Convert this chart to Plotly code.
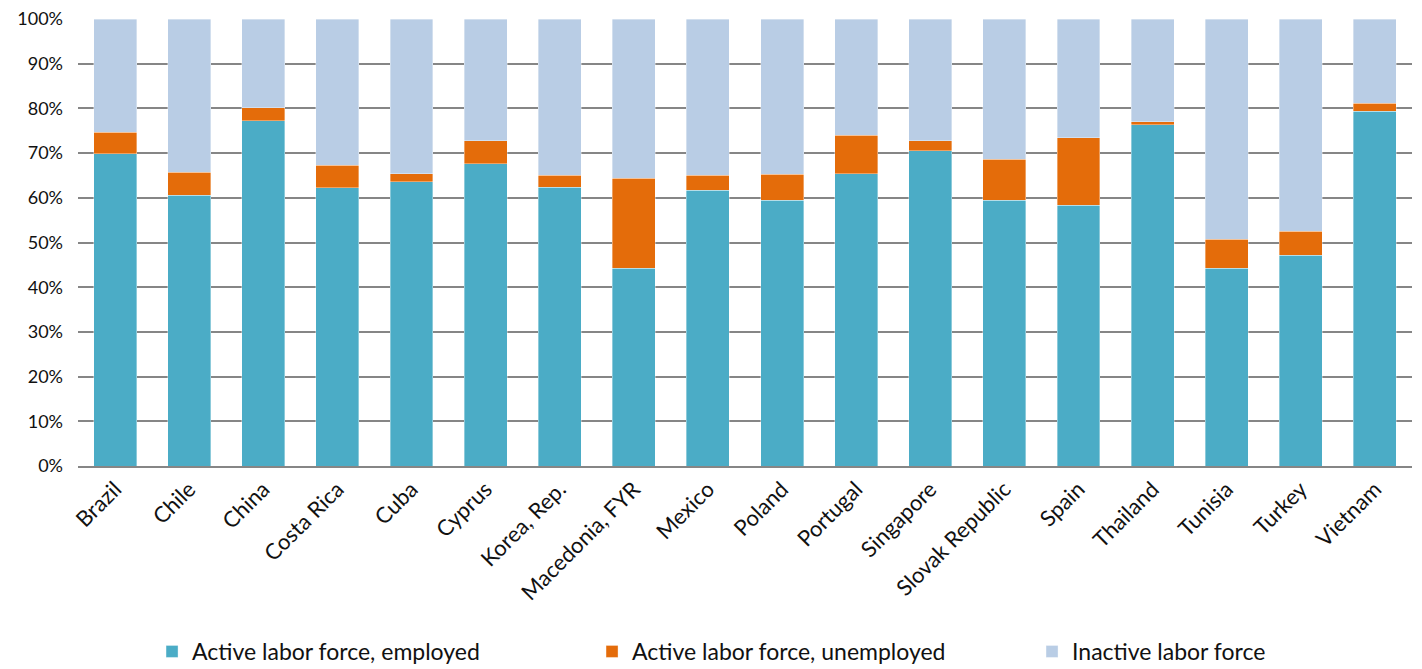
import plotly.graph_objects as go

countries = ["Brazil", "Chile", "China", "Costa Rica", "Cuba", "Cyprus", "Korea, Rep.",
             "Macedonia, FYR", "Mexico", "Poland", "Portugal", "Singapore",
             "Slovak Republic", "Spain", "Thailand", "Tunisia", "Turkey", "Vietnam"]
employed = [69.9, 60.6, 77.2, 62.3, 63.6, 67.6, 62.4, 44.2, 61.7, 59.4, 65.4, 70.5,
            59.4, 58.3, 76.3, 44.2, 47.1, 79.4]
unemployed = [4.8, 5.1, 2.9, 5.0, 1.8, 5.2, 2.6, 20.2, 3.3, 5.9, 8.6, 2.3,
              9.2, 15.1, 0.7, 6.5, 5.4, 1.8]
inactive = [round(100 - e - u, 1) for e, u in zip(employed, unemployed)]

names = ["Active labor force, employed", "Active labor force, unemployed", "Inactive labor force"]
colors = ["#4BACC6", "#E46C0A", "#B9CDE5"]

fig = go.Figure()
for name, vals, col in zip(names, [employed, unemployed, inactive], colors):
    fig.add_trace(go.Bar(x=countries, y=vals, name=name,
                         marker=dict(color=col, line=dict(width=0.6, color="rgba(255,255,255,0.6)"))))

font_family = "Lato, 'Open Sans', sans-serif"
fig.update_layout(
    barmode="stack",
    bargap=0.42,
    width=1414, height=661,
    margin=dict(l=70, r=10, t=11, b=203, autoexpand=False),
    plot_bgcolor="white", paper_bgcolor="white",
    font=dict(family=font_family, size=18, color="#111111"),
    showlegend=True,
    legend=dict(orientation="h", x=0.0555, xanchor="left", y=-0.415, yanchor="middle",
                font=dict(size=23, color="#111111"), entrywidth=395, itemwidth=30,
                traceorder="normal"),
    xaxis=dict(tickangle=-45, showline=True, linecolor="#868686", linewidth=1.5,
               ticks="", tickfont=dict(size=22)),
    yaxis=dict(range=[0, 100], tickvals=list(range(0, 101, 10)),
               ticktext=[f"{v}%" for v in range(0, 101, 10)],
               showgrid=True, gridcolor="#868686", gridwidth=1.5, zeroline=False,
               ticks="", ticklabelstandoff=14, tickfont=dict(size=18),
               ticklabeloverflow="allow"),
)

fig.write_html("out.html")
